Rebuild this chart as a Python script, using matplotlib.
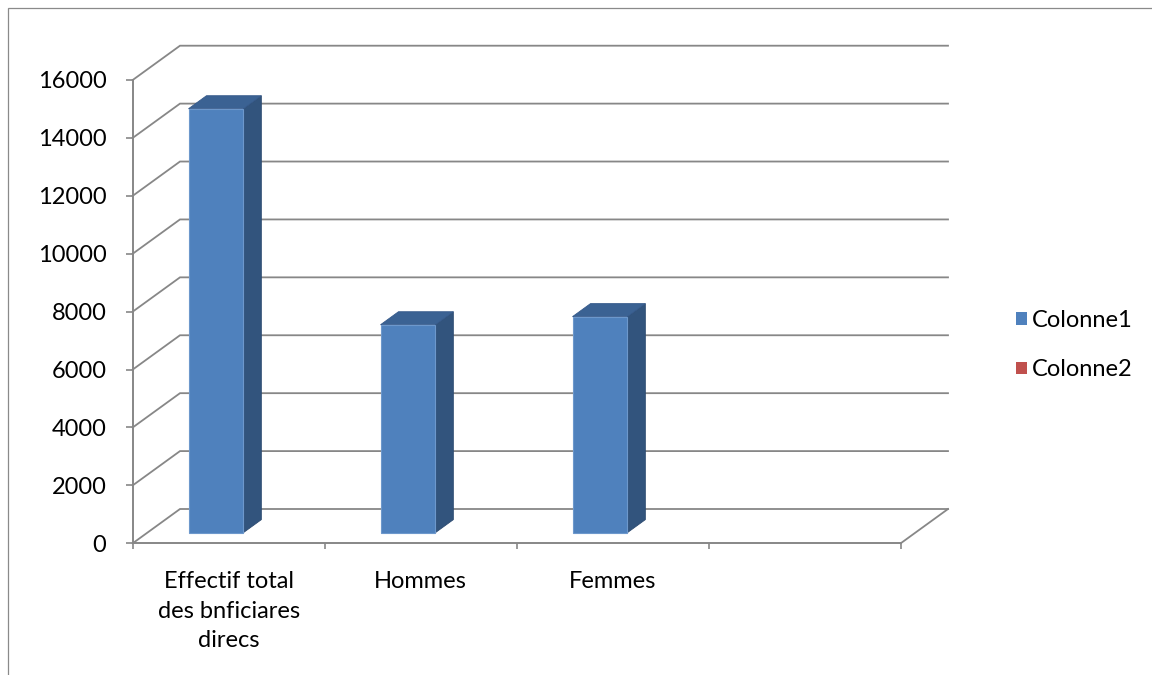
import matplotlib
matplotlib.use("Agg")
import matplotlib.pyplot as plt
from matplotlib.patches import Polygon, Rectangle, Patch

# ---- data ----
categories = ["Effectif total\ndes bnficiares\ndirecs", "Hommes", "Femmes", ""]
colonne1 = [14640, 7180, 7460, None]
colonne2 = [None, None, None, None]
series_names = ["Colonne1", "Colonne2"]
yticks = list(range(0, 16001, 2000))

# ---- style ----
plt.rcParams['font.family'] = ['Lato', 'DejaVu Sans']
FS = 17
GRID = '#878787'
FRONT = '#4F81BD'
SIDE = '#32547D'
TOP = '#3B6293'
RED = '#C0504D'

W, H = 1152, 675
fig = plt.figure(figsize=(W / 100, H / 100), dpi=100)

# frame border
fig.patches.append(Rectangle((7.5 / W, -0.1), 1.2, 1 - 8.3 / H + 0.1, transform=fig.transFigure,
                             fill=False, edgecolor='#8a8a8a', lw=0.9))

x0p, x1p = 132.7, 900.7
y0p, y1p = 543.3, 80.0
ax = fig.add_axes([x0p / W, 1 - y0p / H, (x1p - x0p) / W, (y0p - y1p) / H])
ncat = len(categories)
ax.set_xlim(0, ncat)
ax.set_ylim(0, 16000)
ax.patch.set_visible(False)

# oblique depth offset (in data units)
DX = 47.3 / ((x1p - x0p) / ncat)
DY = 34.3 / ((y0p - y1p) / 16000)


def dep(x, y, f):
    return (x + f * DX, y + f * DY)


# walls / gridlines
for v in yticks:
    ax.plot([0, DX, ncat + DX], [v, v + DY, v + DY], color=GRID, lw=1.3, clip_on=False, zorder=1,
            solid_joinstyle='miter')
ax.plot([ncat, ncat + DX], [0, DY], color=GRID, lw=1.3, clip_on=False, zorder=1)

# bars
gap = 1.5
nser = 2
w = 1 / (nser + gap)
f0, f1 = 0.31, 0.69
for s, vals in enumerate([colonne1, colonne2]):
    for i, v in enumerate(vals):
        if v is None:
            continue
        L = i + gap * w / 2 + s * w
        R = L + w
        front = [dep(L, 0, f0), dep(R, 0, f0), dep(R, v, f0), dep(L, v, f0)]
        side = [dep(R, 0, f0), dep(R, 0, f1), dep(R, v, f1), dep(R, v, f0)]
        top = [dep(L, v, f0), dep(R, v, f0), dep(R, v, f1), dep(L, v, f1)]
        ax.add_patch(Polygon(side, closed=True, facecolor=SIDE, edgecolor='#2c4a70', lw=0.6,
                             clip_on=False, zorder=3))
        ax.add_patch(Polygon(top, closed=True, facecolor=TOP, edgecolor='#35598a', lw=0.6,
                             clip_on=False, zorder=3))
        ax.add_patch(Polygon(front, closed=True, facecolor=FRONT, edgecolor='#6d98cc', lw=0.8,
                             clip_on=False, zorder=4))

# axes
for sp in ['top', 'right']:
    ax.spines[sp].set_visible(False)
for sp in ['left', 'bottom']:
    ax.spines[sp].set_color(GRID)
    ax.spines[sp].set_linewidth(1.4)
    ax.spines[sp].set_zorder(2)

ax.set_yticks(yticks)
ax.set_yticklabels([str(t) for t in yticks])
ax.tick_params(axis='y', direction='out', length=5, width=1.2, color=GRID, pad=14,
               labelsize=FS, labelcolor='black')

ax.set_xticks(range(ncat + 1))
ax.set_xticklabels([])
ax.set_xticks([i + 0.5 for i in range(ncat)], minor=True)
ax.set_xticklabels(categories, minor=True, fontsize=FS, linespacing=1.5)
ax.tick_params(axis='x', which='major', direction='out', length=4.5, width=1.2, color=GRID)
ax.tick_params(axis='x', which='minor', length=0, pad=20, labelcolor='black')

# legend
handles = [Patch(facecolor=FRONT, edgecolor='none'), Patch(facecolor=RED, edgecolor='none')]
fig.legend(handles, series_names, loc='center left', bbox_to_anchor=(1016 / W, 1 - 345 / H),
           frameon=False, fontsize=FS, handlelength=0.45, handleheight=0.45,
           handletextpad=0.22, labelspacing=1.22, borderpad=0, borderaxespad=0)

fig.savefig('out.png', dpi=100)
